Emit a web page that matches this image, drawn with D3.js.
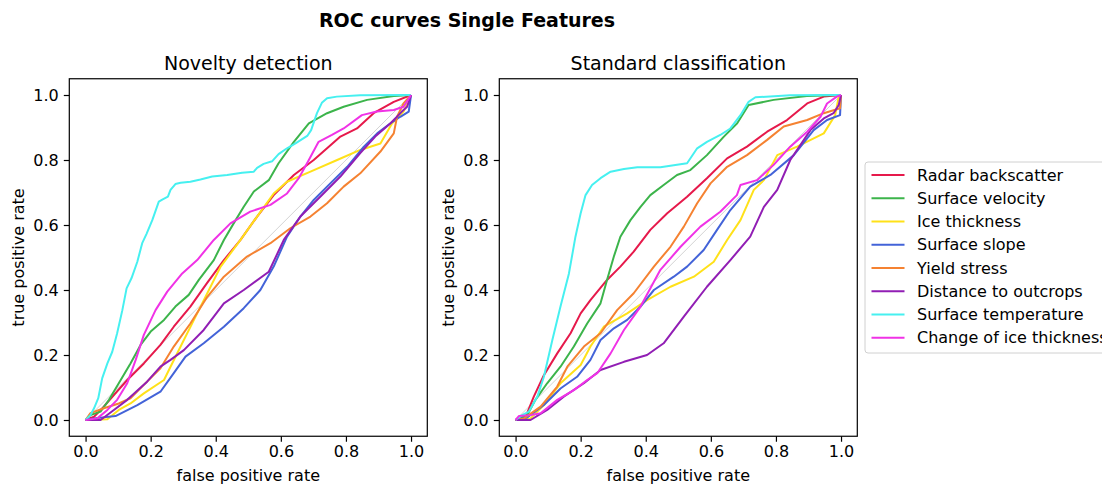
<!DOCTYPE html>
<html>
<head>
<meta charset="utf-8">
<script src="https://cdn.jsdelivr.net/npm/d3@7"></script>
<style>
  body { margin: 0; background: #fff; }
  svg { font-family: "DejaVu Sans", sans-serif; }
</style>
</head>
<body>
<div id="chart"></div>
<script>
// series names + colours (legend order)
var seriesNames = ["Radar backscatter", "Surface velocity", "Ice thickness", "Surface slope",
    "Yield stress", "Distance to outcrops", "Surface temperature", "Change of ice thickness"];
var seriesColors = ["#e6194b", "#3cb44b", "#ffe119", "#4363d8", "#f58231", "#911eb4", "#46f0f0", "#f032e6"];
var tickValues = [0, 0.2, 0.4, 0.6, 0.8, 1.0];

// ROC points [fpr, tpr] - novelty detection
var novRadar = [[0,0],[0.026,0.01],[0.056,0.041],[0.087,0.077],[0.128,0.123],[0.179,0.174],[0.23,0.231],[0.271,0.287],[0.322,0.349],[0.373,0.421],[0.425,0.492],[0.476,0.554],[0.527,0.626],[0.578,0.692],[0.64,0.754],[0.701,0.8],[0.742,0.836],[0.783,0.872],[0.834,0.897],[0.885,0.944],[0.947,0.979],[1,1]];
var novVelocity = [[0,0],[0.015,0.015],[0.046,0.026],[0.072,0.062],[0.102,0.113],[0.138,0.174],[0.169,0.231],[0.2,0.272],[0.241,0.308],[0.276,0.349],[0.317,0.385],[0.348,0.431],[0.394,0.492],[0.425,0.554],[0.455,0.605],[0.486,0.656],[0.517,0.703],[0.563,0.738],[0.593,0.79],[0.64,0.856],[0.686,0.913],[0.742,0.944],[0.793,0.964],[0.865,0.985],[0.947,0.997],[1,1]];
var novThickness = [[0,0],[0.067,0.002],[0.102,0.031],[0.138,0.051],[0.179,0.082],[0.241,0.123],[0.261,0.164],[0.292,0.226],[0.333,0.308],[0.374,0.39],[0.415,0.472],[0.476,0.554],[0.527,0.626],[0.578,0.697],[0.619,0.733],[0.691,0.764],[0.773,0.8],[0.844,0.831],[0.906,0.851],[0.942,0.913],[0.977,0.949],[1,1]];
var novSlope = [[0,0],[0.026,0.005],[0.092,0.012],[0.159,0.046],[0.23,0.087],[0.271,0.144],[0.307,0.195],[0.363,0.236],[0.425,0.287],[0.486,0.344],[0.537,0.4],[0.578,0.472],[0.619,0.564],[0.66,0.626],[0.701,0.677],[0.752,0.728],[0.804,0.779],[0.855,0.841],[0.896,0.882],[0.937,0.913],[0.967,0.933],[0.993,0.949],[1,1]];
var novYield = [[0,0],[0.015,0.021],[0.056,0.036],[0.102,0.051],[0.138,0.067],[0.189,0.118],[0.23,0.159],[0.271,0.226],[0.322,0.297],[0.374,0.379],[0.425,0.441],[0.496,0.503],[0.568,0.544],[0.629,0.59],[0.691,0.626],[0.742,0.667],[0.793,0.718],[0.844,0.759],[0.906,0.826],[0.947,0.882],[0.957,0.933],[0.977,0.974],[1,1]];
var novOutcrops = [[0,0],[0.046,0],[0.087,0.031],[0.128,0.062],[0.189,0.118],[0.23,0.164],[0.261,0.185],[0.302,0.215],[0.363,0.277],[0.425,0.359],[0.486,0.4],[0.563,0.456],[0.609,0.554],[0.66,0.626],[0.721,0.687],[0.783,0.749],[0.844,0.821],[0.89,0.872],[0.937,0.913],[0.972,0.949],[0.988,0.964],[1,1]];
var novTemperature = [[0,0],[0.015,0.015],[0.026,0.036],[0.039,0.067],[0.051,0.128],[0.067,0.174],[0.082,0.21],[0.097,0.267],[0.113,0.338],[0.126,0.405],[0.141,0.436],[0.159,0.487],[0.174,0.544],[0.187,0.572],[0.205,0.615],[0.225,0.672],[0.237,0.679],[0.253,0.687],[0.261,0.708],[0.276,0.726],[0.292,0.73],[0.322,0.733],[0.353,0.74],[0.389,0.749],[0.435,0.754],[0.481,0.761],[0.517,0.764],[0.527,0.776],[0.547,0.788],[0.573,0.796],[0.593,0.818],[0.619,0.836],[0.645,0.851],[0.681,0.874],[0.693,0.892],[0.711,0.944],[0.726,0.976],[0.742,0.99],[0.772,0.995],[0.844,0.999],[1,1]];
var novChange = [[0,0],[0.036,0.005],[0.067,0.031],[0.097,0.062],[0.128,0.113],[0.154,0.185],[0.179,0.262],[0.215,0.338],[0.251,0.395],[0.297,0.451],[0.343,0.492],[0.394,0.554],[0.445,0.605],[0.506,0.641],[0.568,0.662],[0.619,0.697],[0.655,0.744],[0.686,0.8],[0.716,0.856],[0.757,0.877],[0.793,0.897],[0.849,0.938],[0.895,0.949],[0.947,0.954],[0.977,0.964],[1,1]];

// standard classification
var stdRadar = [[0,0],[0.031,0.01],[0.056,0.072],[0.087,0.138],[0.128,0.205],[0.169,0.267],[0.2,0.328],[0.23,0.369],[0.281,0.431],[0.322,0.472],[0.363,0.518],[0.414,0.585],[0.466,0.636],[0.527,0.687],[0.588,0.744],[0.65,0.805],[0.711,0.841],[0.773,0.887],[0.834,0.923],[0.896,0.974],[0.947,0.995],[1,1]];
var stdVelocity = [[0,0],[0.036,0.015],[0.061,0.062],[0.097,0.113],[0.138,0.164],[0.179,0.226],[0.22,0.297],[0.261,0.359],[0.281,0.431],[0.302,0.503],[0.322,0.564],[0.353,0.615],[0.384,0.656],[0.414,0.692],[0.455,0.723],[0.496,0.754],[0.537,0.769],[0.588,0.815],[0.64,0.872],[0.681,0.913],[0.716,0.969],[0.793,0.985],[0.895,0.997],[1,1]];
var stdThickness = [[0,0],[0.046,0.005],[0.087,0.046],[0.138,0.113],[0.2,0.169],[0.23,0.226],[0.271,0.287],[0.343,0.328],[0.404,0.369],[0.476,0.41],[0.548,0.441],[0.609,0.487],[0.65,0.554],[0.691,0.615],[0.732,0.708],[0.763,0.738],[0.804,0.815],[0.865,0.841],[0.947,0.882],[0.982,0.938],[0.993,0.995],[1,1]];
var stdSlope = [[0,0],[0.036,0.008],[0.087,0.046],[0.138,0.097],[0.189,0.133],[0.23,0.185],[0.261,0.246],[0.302,0.282],[0.343,0.308],[0.384,0.349],[0.425,0.4],[0.486,0.441],[0.527,0.472],[0.578,0.523],[0.619,0.585],[0.66,0.646],[0.721,0.718],[0.783,0.754],[0.855,0.815],[0.916,0.892],[0.957,0.923],[0.997,0.938],[1,1]];
var stdYield = [[0,0],[0.026,0.005],[0.077,0.041],[0.128,0.103],[0.159,0.164],[0.21,0.226],[0.261,0.267],[0.312,0.338],[0.363,0.39],[0.425,0.472],[0.476,0.533],[0.517,0.595],[0.558,0.667],[0.599,0.728],[0.65,0.779],[0.711,0.815],[0.773,0.862],[0.824,0.903],[0.896,0.923],[0.947,0.944],[0.997,0.959],[1,1]];
var stdOutcrops = [[0,0],[0.046,0],[0.097,0.031],[0.148,0.072],[0.21,0.113],[0.261,0.154],[0.333,0.179],[0.404,0.2],[0.455,0.236],[0.517,0.318],[0.588,0.41],[0.66,0.492],[0.721,0.564],[0.763,0.656],[0.804,0.708],[0.844,0.8],[0.906,0.892],[0.947,0.928],[0.977,0.944],[0.993,0.969],[1,1]];
var stdTemperature = [[0,0],[0.02,0.015],[0.041,0.026],[0.067,0.072],[0.087,0.133],[0.113,0.246],[0.138,0.349],[0.164,0.451],[0.184,0.564],[0.2,0.636],[0.215,0.692],[0.235,0.723],[0.261,0.744],[0.292,0.764],[0.333,0.772],[0.374,0.778],[0.445,0.778],[0.527,0.79],[0.558,0.836],[0.588,0.856],[0.629,0.877],[0.66,0.897],[0.691,0.938],[0.716,0.979],[0.737,0.993],[0.844,0.999],[1,1]];
var stdChange = [[0,0],[0.01,0.012],[0.046,0.015],[0.077,0.021],[0.128,0.062],[0.179,0.092],[0.22,0.123],[0.251,0.144],[0.292,0.205],[0.333,0.277],[0.384,0.349],[0.445,0.462],[0.507,0.533],[0.568,0.595],[0.629,0.641],[0.68,0.692],[0.691,0.723],[0.742,0.738],[0.793,0.785],[0.844,0.841],[0.896,0.887],[0.937,0.933],[0.957,0.974],[0.987,0.995],[1,1]];

var panels = [
    { title: "Novelty detection", left: 69.3,
      series: [novRadar, novVelocity, novThickness, novSlope, novYield, novOutcrops, novTemperature, novChange] },
    { title: "Standard classification", left: 499.3,
      series: [stdRadar, stdVelocity, stdThickness, stdSlope, stdYield, stdOutcrops, stdTemperature, stdChange] }
];

var width = 1102, height = 486;
var axW = 358, axTop = 78.75, axH = 357.5;
var small = "16px", big = "19px";

var svg = d3.select("#chart").append("svg")
    .attr("width", width)
    .attr("height", height);

svg.append("text")
    .attr("x", 467).attr("y", 26.5)
    .attr("text-anchor", "middle")
    .style("font-size", big)
    .style("font-weight", "bold")
    .text("ROC curves Single Features");

panels.forEach(function(p) {
    var x = d3.scaleLinear().domain([-0.05, 1.05]).range([0, axW]);
    var y = d3.scaleLinear().domain([-0.05, 1.05]).range([axH, 0]);

    var g = svg.append("g")
        .attr("transform", "translate(" + p.left + "," + axTop + ")");

    // chance diagonal
    g.append("line")
        .attr("x1", x(0)).attr("y1", y(0))
        .attr("x2", x(1)).attr("y2", y(1))
        .style("stroke", "#c8c8c8")
        .style("stroke-width", 0.8);

    var line = d3.line()
        .x(function(d) { return x(d[0]); })
        .y(function(d) { return y(d[1]); });

    p.series.forEach(function(s, i) {
        g.append("path")
            .datum(s)
            .attr("d", line)
            .style("fill", "none")
            .style("stroke", seriesColors[i])
            .style("stroke-width", 2)
            .style("stroke-linejoin", "round");
    });

    // axes
    var xAxis = g.append("g")
        .attr("transform", "translate(0," + axH + ")")
        .call(d3.axisBottom(x).tickValues(tickValues).tickFormat(d3.format(".1f")).tickSizeOuter(0).tickSize(5.5).tickPadding(3.5));
    var yAxis = g.append("g")
        .call(d3.axisLeft(y).tickValues(tickValues).tickFormat(d3.format(".1f")).tickSizeOuter(0).tickSize(5.5).tickPadding(5));
    [xAxis, yAxis].forEach(function(a) {
        a.select(".domain").remove();
        a.selectAll("line").style("stroke", "#000").style("stroke-width", 1.2);
        a.selectAll("text")
            .style("font-family", "'DejaVu Sans', sans-serif")
            .style("font-size", small)
            .style("fill", "#000");
    });

    // frame
    g.append("rect")
        .attr("width", axW).attr("height", axH)
        .style("fill", "none")
        .style("stroke", "#000")
        .style("stroke-width", 1.2);

    g.append("text")
        .attr("x", axW / 2).attr("y", -9)
        .attr("text-anchor", "middle")
        .style("font-size", big)
        .text(p.title);

    g.append("text")
        .attr("x", axW / 2).attr("y", axH + 45)
        .attr("text-anchor", "middle")
        .style("font-size", small)
        .text("false positive rate");

    g.append("text")
        .attr("transform", "translate(-45," + axH / 2 + ") rotate(-90)")
        .attr("text-anchor", "middle")
        .style("font-size", small)
        .text("true positive rate");
});

// legend
var legend = svg.append("g").attr("transform", "translate(865,162)");
legend.append("rect")
    .attr("width", 260).attr("height", 191)
    .attr("rx", 3)
    .style("fill", "#fff")
    .style("fill-opacity", 0.8)
    .style("stroke", "#d0d0d0")
    .style("stroke-width", 1);

var item = legend.selectAll(".item")
    .data(seriesNames)
    .enter().append("g")
    .attr("class", "item")
    .attr("transform", function(d, i) { return "translate(0," + (13 + i * 23.25) + ")"; });

item.append("line")
    .attr("x1", 6.5).attr("x2", 39.5)
    .style("stroke", function(d, i) { return seriesColors[i]; })
    .style("stroke-width", 2);

item.append("text")
    .attr("x", 52).attr("dy", "0.35em")
    .style("font-size", small)
    .text(function(d) { return d; });
</script>
</body>
</html>
